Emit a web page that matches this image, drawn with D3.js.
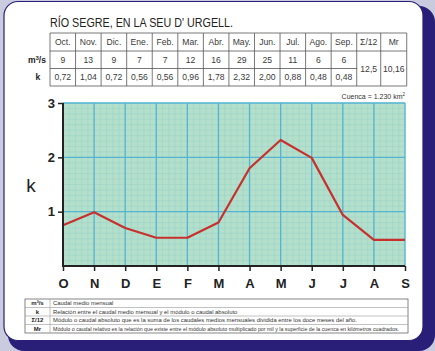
<!DOCTYPE html>
<html>
<head>
<meta charset="utf-8">
<script src="https://cdn.jsdelivr.net/npm/d3@7"></script>
<style>
  html, body { margin: 0; padding: 0; background: #cbcbdf; }
  svg { display: block; font-family: "Liberation Sans", Arial, sans-serif; }
</style>
</head>
<body>
<div id="chart"></div>
<script>
// Datos
const meses = ['Oct.', 'Nov.', 'Dic.', 'Ene.', 'Feb.', 'Mar.', 'Abr.', 'May.', 'Jun.', 'Jul.', 'Ago.', 'Sep.'];
const iniciales = ['O', 'N', 'D', 'E', 'F', 'M', 'A', 'M', 'J', 'J', 'A', 'S'];
const caudal = ['9', '13', '9', '7', '7', '12', '16', '29', '25', '11', '6', '6'];
const kTabla = ['0,72', '1,04', '0,72', '0,56', '0,56', '0,96', '1,78', '2,32', '2,00', '0,88', '0,48', '0,48'];
const kGrafico = [0.75, 0.99, 0.70, 0.52, 0.52, 0.80, 1.80, 2.32, 1.99, 0.94, 0.48, 0.48];
const yTicks = [1, 2, 3];
const leyenda = [
  ['m³/s', 'Caudal medio mensual'],
  ['k', 'Relación entre el caudal medio mensual y el módulo o caudal absoluto'],
  ['Σ/12', 'Módulo o caudal absoluto que es la suma de los caudales medios mensuales dividida entre los doce meses del año.'],
  ['Mr', 'Módulo o caudal relativo es la relación que existe entre el módulo absoluto  multiplicado por mil y la superficie de la cuenca en kilómetros cuadrados.']
];

const W = 435, H = 351;
const svg = d3.select('#chart').append('svg').attr('width', W).attr('height', H);

// Marco
svg.append('rect').attr('width', W).attr('height', H).attr('fill', '#cbcbdf');
svg.append('rect').attr('x', 8).attr('y', 6).attr('width', 427).attr('height', 345)
  .attr('rx', 16).attr('fill', '#2a1f78');
svg.append('rect').attr('x', 4).attr('y', 1.5).attr('width', 419).attr('height', 339)
  .attr('rx', 14).attr('fill', '#ffffff').attr('stroke', '#2a1f78').attr('stroke-width', 1.2);

// Título
svg.append('text').attr('x', 50).attr('y', 26.5)
  .attr('font-size', 12.5).attr('fill', '#222')
  .attr('textLength', 183).attr('lengthAdjust', 'spacingAndGlyphs')
  .text('RÍO SEGRE, EN LA SEU D\' URGELL.');

// Tabla superior
const tx0 = 50, colW = 25.56, rowY = [33, 51, 68.5, 86];
const tbl = svg.append('g').attr('font-size', 8.6).attr('fill', '#3a3a3a');
const lineCol = '#555';
const colX = d3.range(13).map(i => tx0 + i * colW);
const xSig = [colX[12], colX[12] + 24], xMr = [colX[12] + 24, colX[12] + 50];
const tRight = xMr[1];

// líneas horizontales
rowY.forEach(yy => {
  tbl.append('line').attr('x1', tx0).attr('x2', tRight).attr('y1', yy).attr('y2', yy)
    .attr('stroke', lineCol).attr('stroke-width', 0.8);
});
// tapar la línea interior de las celdas combinadas
tbl.append('rect').attr('x', xSig[0] + 0.5).attr('y', rowY[2] - 1).attr('width', tRight - xSig[0] - 1)
  .attr('height', 2).attr('fill', '#fff');
// líneas verticales
colX.concat([xMr[0], xMr[1]]).forEach(xx => {
  tbl.append('line').attr('x1', xx).attr('x2', xx).attr('y1', rowY[0]).attr('y2', rowY[3])
    .attr('stroke', lineCol).attr('stroke-width', 0.8);
});

const mid = (a, b) => (a + b) / 2;
meses.forEach((m, i) => {
  const cx = colX[i] + colW / 2;
  tbl.append('text').attr('x', cx).attr('y', mid(rowY[0], rowY[1]) + 3).attr('text-anchor', 'middle').text(m);
  tbl.append('text').attr('x', cx).attr('y', mid(rowY[1], rowY[2]) + 3).attr('text-anchor', 'middle').text(caudal[i]);
  tbl.append('text').attr('x', cx).attr('y', mid(rowY[2], rowY[3]) + 3).attr('text-anchor', 'middle').text(kTabla[i]);
});
tbl.append('text').attr('x', mid(xSig[0], xSig[1])).attr('y', mid(rowY[0], rowY[1]) + 3)
  .attr('text-anchor', 'middle').text('Σ/12');
tbl.append('text').attr('x', mid(xMr[0], xMr[1])).attr('y', mid(rowY[0], rowY[1]) + 3)
  .attr('text-anchor', 'middle').text('Mr');
tbl.append('text').attr('x', mid(xSig[0], xSig[1])).attr('y', rowY[2] + 3)
  .attr('text-anchor', 'middle').text('12,5');
tbl.append('text').attr('x', mid(xMr[0], xMr[1])).attr('y', rowY[2] + 3)
  .attr('text-anchor', 'middle').text('10,16');
// etiquetas de fila
const lab1 = tbl.append('text').attr('x', 37).attr('y', mid(rowY[1], rowY[2]) + 3)
  .attr('text-anchor', 'middle').attr('font-weight', 'bold').attr('fill', '#222');
lab1.append('tspan').text('m');
lab1.append('tspan').attr('font-size', 5.5).attr('dy', -3).text('3');
lab1.append('tspan').attr('dy', 3).text('/s');
tbl.append('text').attr('x', 38).attr('y', mid(rowY[2], rowY[3]) + 3)
  .attr('text-anchor', 'middle').attr('font-weight', 'bold').attr('fill', '#222').text('k');

// Cuenca
const cu = svg.append('text').attr('x', 405).attr('y', 99).attr('text-anchor', 'end')
  .attr('font-size', 7).attr('fill', '#333');
cu.append('tspan').text('Cuenca = 1.230 km');
cu.append('tspan').attr('font-size', 4.5).attr('dy', -3).text('2');

// Gráfico
const pLeft = 63, pRight = 405, pTop = 103, pBottom = 266;
const x = d3.scaleLinear().domain([0, 11]).range([pLeft, pRight]);
const y = d3.scaleLinear().domain([0, 3]).range([pBottom, pTop]);
const plot = svg.append('g');
plot.append('rect').attr('x', pLeft).attr('y', pTop).attr('width', pRight - pLeft).attr('height', pBottom - pTop)
  .attr('fill', '#b3dfcb');

// cuadrícula fina
const fineX = d3.range(0, 11.0001, 0.2), fineY = d3.range(0, 3.0001, 0.1);
plot.selectAll('.fx').data(fineX).join('line')
  .attr('x1', d => x(d)).attr('x2', d => x(d)).attr('y1', pTop).attr('y2', pBottom)
  .attr('stroke', '#98d2c8').attr('stroke-width', 0.5);
plot.selectAll('.fy').data(fineY).join('line')
  .attr('x1', pLeft).attr('x2', pRight).attr('y1', d => y(d)).attr('y2', d => y(d))
  .attr('stroke', '#98d2c8').attr('stroke-width', 0.5);
// cuadrícula principal
plot.selectAll('.mx').data(d3.range(12)).join('line')
  .attr('x1', d => x(d)).attr('x2', d => x(d)).attr('y1', pTop).attr('y2', pBottom)
  .attr('stroke', '#55b4d2').attr('stroke-width', 1.3);
plot.selectAll('.my').data(yTicks).join('line')
  .attr('x1', pLeft).attr('x2', pRight).attr('y1', d => y(d)).attr('y2', d => y(d))
  .attr('stroke', '#55b4d2').attr('stroke-width', 1.3);

// línea de k
plot.append('path').datum(kGrafico)
  .attr('fill', 'none').attr('stroke', '#c7302c').attr('stroke-width', 2.2)
  .attr('stroke-linejoin', 'round')
  .attr('d', d3.line().x((d, i) => x(i)).y(d => y(d)));

// ejes
const yAxis = svg.append('g').attr('transform', `translate(${pLeft},0)`)
  .call(d3.axisLeft(y).tickValues(yTicks).tickSize(5).tickFormat(d3.format('d')));
yAxis.select('.domain').attr('stroke', '#222').attr('stroke-width', 2)
  .attr('d', `M0,${pTop}V${pBottom}`);
yAxis.selectAll('.tick line').attr('stroke', '#222').attr('stroke-width', 1.5);
yAxis.selectAll('.tick text').attr('font-size', 13).attr('font-weight', 'bold')
  .attr('fill', '#222').attr('font-family', '"Liberation Sans", Arial, sans-serif').attr('x', -8);

const xAxis = svg.append('g').attr('transform', `translate(0,${pBottom})`)
  .call(d3.axisBottom(x).tickValues(d3.range(12)).tickSize(5).tickFormat(i => iniciales[i]));
xAxis.select('.domain').attr('stroke', '#222').attr('stroke-width', 2)
  .attr('d', `M${pLeft - 1},0H${pRight}`);
xAxis.selectAll('.tick line').attr('stroke', '#222').attr('stroke-width', 1.5);
xAxis.selectAll('.tick text').attr('font-size', 13).attr('font-weight', 'bold')
  .attr('fill', '#222').attr('font-family', '"Liberation Sans", Arial, sans-serif').attr('dy', '1.05em');

svg.append('text').attr('x', 31).attr('y', 192).attr('text-anchor', 'middle')
  .attr('font-size', 19).attr('fill', '#222').text('k');

// Leyenda inferior
const lx0 = 25, lx1 = 50, lx2 = 408, ly0 = 299, lh = 8.5;
const leg = svg.append('g');
leg.append('rect').attr('x', lx0).attr('y', ly0).attr('width', lx2 - lx0).attr('height', lh * 4)
  .attr('fill', '#fff').attr('stroke', '#666').attr('stroke-width', 0.8);
d3.range(1, 4).forEach(i => {
  leg.append('line').attr('x1', lx0).attr('x2', lx2).attr('y1', ly0 + i * lh).attr('y2', ly0 + i * lh)
    .attr('stroke', '#999').attr('stroke-width', 0.6);
});
leg.append('line').attr('x1', lx1).attr('x2', lx1).attr('y1', ly0).attr('y2', ly0 + 4 * lh)
  .attr('stroke', '#999').attr('stroke-width', 0.6);
leyenda.forEach((r, i) => {
  const yy = ly0 + i * lh + 6.2;
  leg.append('text').attr('x', (lx0 + lx1) / 2).attr('y', yy).attr('text-anchor', 'middle')
    .attr('font-size', 6).attr('font-weight', 'bold').attr('fill', '#222').text(r[0]);
  const t = leg.append('text').attr('x', lx1 + 3).attr('y', yy)
    .attr('font-size', i === 3 ? 5.1 : 5.9).attr('fill', '#333').text(r[1]);
  if (i === 3) t.attr('textLength', 346).attr('lengthAdjust', 'spacingAndGlyphs');
});
</script>
</body>
</html>
